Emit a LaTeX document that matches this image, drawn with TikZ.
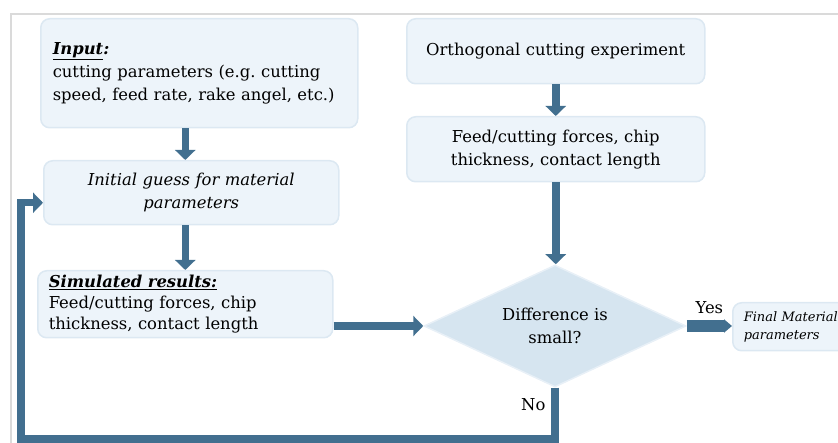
\documentclass[tikz,border=0pt]{standalone}
\usepackage{fontspec}
\setmainfont{DejaVu Serif}
\usetikzlibrary{arrows.meta,positioning,shapes.geometric}
\definecolor{flowblue}{RGB}{66,111,143}
\definecolor{boxfill}{RGB}{237,244,250}
\definecolor{boxline}{RGB}{220,232,242}
\definecolor{diafill}{RGB}{214,229,240}
\definecolor{diaedge}{RGB}{232,240,247}
\definecolor{framegray}{RGB}{218,218,218}
\frenchspacing

\begin{document}
\begin{tikzpicture}[x=1pt,y=-1pt]
\useasboundingbox (0,0) rectangle (838,443);
\tikzstyle{fb}=[draw=boxline, fill=boxfill, line width=1.5pt, rounded corners=9pt,
  anchor=north west, inner xsep=12pt, font=\fontsize{16.4}{23}\selectfont]
\tikzstyle{farrow}=[-{Triangle[length=10pt,width=20pt]}, line width=7.5pt, flowblue]
% frame
\draw[framegray, line width=2pt] (838,14) -- (11,14) -- (11,443);
% left column
\node[fb, minimum width=317pt, minimum height=109pt, text width=293pt, align=left] (inp) at (40,18)
  {\underline{\textbf{\textit{Input}}}\textbf{\textit{:}}\\cutting parameters (e.g. cutting\\speed, feed rate, rake angel, etc.)};
\node[fb, minimum width=295pt, minimum height=64pt, text width=271pt, align=center,
  font=\fontsize{16.4}{23}\selectfont\itshape] (init) at (43,160)
  {Initial guess for material\\parameters};
\node[fb, minimum width=295pt, minimum height=67pt, inner xsep=11pt, text width=273pt, align=left,
  font=\fontsize{16.4}{21}\selectfont] (sim) at (37,270)
  {\underline{\textbf{\textit{Simulated results:}}}\\Feed/cutting forces, chip\\thickness, contact length};
% right column
\node[fb, minimum width=298pt, minimum height=65pt, text width=274pt, align=center] (orth) at (406,18)
  {Orthogonal cutting experiment};
\node[fb, minimum width=298pt, minimum height=65pt, text width=274pt, align=center] (feed) at (406,116)
  {Feed/cutting forces, chip\\thickness, contact length};
\node[diamond, draw=diaedge, fill=diafill, line width=1.5pt, minimum width=262pt, minimum height=122pt,
  inner sep=0pt, aspect=2.15, align=center, font=\fontsize{16.4}{23}\selectfont] (dec) at (555,326)
  {Difference is\\small?};
\node[fb, minimum width=114pt, minimum height=48pt, inner xsep=11pt, text width=95pt, align=left,
  font=\fontsize{13}{18}\selectfont\itshape] (fin) at (732,302)
  {Final Material\\parameters};
% connectors
\draw[farrow] (inp.south -| sim.north) -- (init.north -| sim.north);
\draw[farrow] (init.south -| sim.north) -- (sim.north);
\draw[farrow] (orth.south) -- (feed.north);
\draw[farrow] (feed.south) -- (feed.south |- dec.north);
\draw[farrow] (sim.east |- dec.west) -- (dec.west);
\draw[-{Triangle[length=8pt,width=13pt]}, line width=12pt, flowblue] (dec.east) -- (dec.east -| fin.west)
  node[midway, above=3pt, black, font=\fontsize{16.4}{18}\selectfont] (yes) {Yes};
\coordinate (back) at (21,439);
\draw[farrow] (dec.south) |- (back) |- ([yshift=-10pt]init.west);
\node[font=\fontsize{16.4}{18}\selectfont, left=6pt of dec.south, yshift=-17pt] (no) {No};
\end{tikzpicture}
\end{document}
